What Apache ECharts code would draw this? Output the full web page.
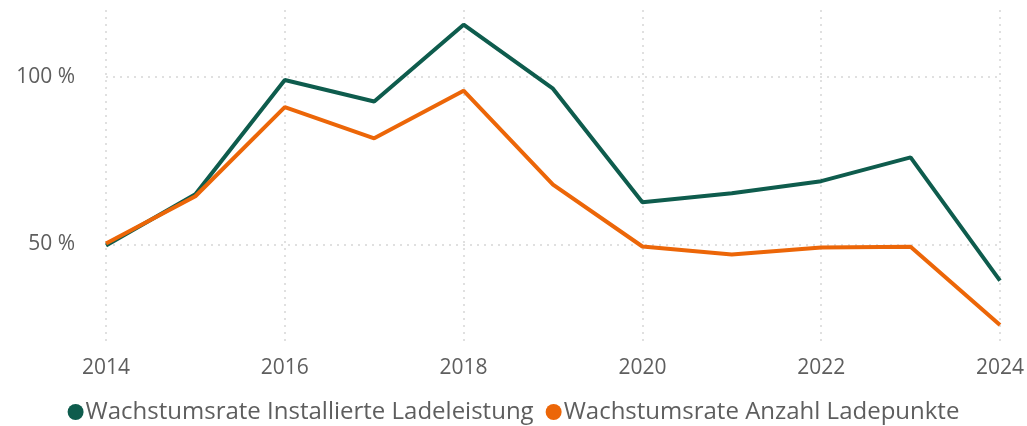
<!DOCTYPE html>
<html>
<head>
<meta charset="utf-8">
<script src="https://cdn.jsdelivr.net/npm/echarts@6/dist/echarts.min.js"></script>
<style>
  html, body { margin: 0; padding: 0; background: #fff; }
  #chart { width: 1027px; height: 426px; }
</style>
</head>
<body>
<div id="chart"></div>
<script>
const years = ['2014', '2015', '2016', '2017', '2018', '2019', '2020', '2021', '2022', '2023', '2024']
const ladeleistung = [49.7, 65.0, 99.1, 92.7, 115.6, 96.5, 62.6, 65.3, 68.9, 76.0, 39.2]
const ladepunkte = [50.3, 64.4, 91.0, 81.7, 95.9, 67.9, 49.4, 47.0, 49.1, 49.3, 26.0]
const yTicks = [50, 100]

const green = '#0e5c4d'
const orange = '#ec6608'
const textColor = '#5e5e5e'
const font = '"Open Sans", "Noto Sans", sans-serif'

const chart = echarts.init(document.getElementById('chart'))

chart.setOption({
  animation: false,
  textStyle: { fontFamily: font },
  grid: { left: 106, right: 26, top: 10, bottom: 81 },
  legend: {
    bottom: -3,
    left: 'center',
    icon: 'circle',
    itemWidth: 16,
    itemHeight: 16,
    itemGap: 12,
    textStyle: { color: textColor, fontSize: 24, fontFamily: font, padding: [0, 0, 0, -3] },
    data: ['Wachstumsrate Installierte Ladeleistung', 'Wachstumsrate Anzahl Ladepunkte'],
  },
  xAxis: {
    type: 'category',
    boundaryGap: false,
    data: years,
    axisLine: { show: false },
    axisTick: { show: false },
    axisLabel: { interval: 1, color: textColor, fontSize: 21, margin: 13, fontFamily: font },
    splitLine: {
      show: true,
      interval: 1,
      lineStyle: { color: '#d6d6d6', type: [2, 5], width: 1.5 },
    },
  },
  yAxis: {
    type: 'value',
    min: 20,
    max: 120,
    axisLine: { show: false },
    axisTick: { show: false, customValues: yTicks },
    axisLabel: {
      customValues: yTicks,
      color: textColor,
      fontSize: 21,
      margin: 31,
      fontFamily: font,
      formatter: (v) => v + ' %',
    },
    splitLine: { lineStyle: { color: '#d6d6d6', type: [2, 5], width: 1.5 } },
  },
  series: [
    {
      name: 'Wachstumsrate Installierte Ladeleistung',
      type: 'line',
      data: ladeleistung,
      symbol: 'none',
      color: green,
      lineStyle: { width: 4, color: green },
    },
    {
      name: 'Wachstumsrate Anzahl Ladepunkte',
      type: 'line',
      data: ladepunkte,
      symbol: 'none',
      color: orange,
      lineStyle: { width: 4, color: orange },
    },
  ],
})
</script>
</body>
</html>
